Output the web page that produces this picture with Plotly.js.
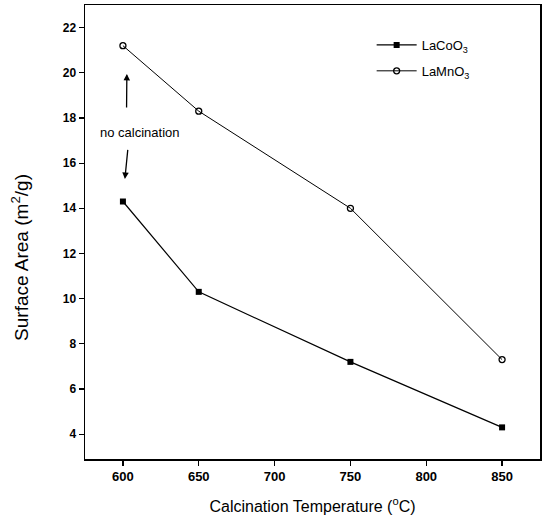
<!DOCTYPE html>
<html>
<head>
<meta charset="utf-8">
<script src="https://cdn.plot.ly/plotly-3.0.1.min.js"></script>
<style>
html,body{margin:0;padding:0;background:#fff;}
#chart{width:547px;height:519px;}
</style>
</head>
<body>
<div id="chart"></div>
<script>
var temperatures = [600, 650, 750, 850];
var lacoo3 = [14.3, 10.3, 7.2, 4.3];
var lamno3 = [21.2, 18.3, 14.0, 7.3];
var seriesNames = ['LaCoO<sub>3</sub>', 'LaMnO<sub>3</sub>'];
var xTicks = [600, 650, 700, 750, 800, 850];
var yTicks = [4, 6, 8, 10, 12, 14, 16, 18, 20, 22];
var xTitle = 'Calcination Temperature (<sup>o</sup>C)';
var yTitle = 'Surface Area (m<sup>2</sup>/g)';

var font = 'Liberation Sans, Arial, sans-serif';
var black = '#000000';

var traces = [
  {
    x: temperatures, y: lacoo3, name: seriesNames[0], type: 'scatter', mode: 'lines+markers',
    legendgroup: 'a',
    line: {color: black, width: 1.2},
    marker: {symbol: 'square', size: 6, color: black}
  },
  {
    x: temperatures, y: lamno3, name: seriesNames[1], type: 'scatter', mode: 'lines+markers',
    legendgroup: 'b',
    line: {color: black, width: 1},
    marker: {symbol: 'circle-open', size: 6, color: black, line: {width: 1.3}}
  }
];

var layout = {
  width: 547, height: 519,
  margin: {l: 85, r: 7, t: 5, b: 60},
  paper_bgcolor: '#fff', plot_bgcolor: '#fff',
  font: {family: font, color: black, size: 12},
  showlegend: true,
  legend: {
    x: 0.63, y: 0.945, xanchor: 'left', yanchor: 'top',
    bgcolor: 'rgba(0,0,0,0)', font: {size: 13, family: font, color: black},
    traceorder: 'grouped', tracegroupgap: 6, itemwidth: 40
  },
  xaxis: {
    range: [575, 875], tickvals: xTicks, ticks: 'outside', ticklen: 5, tickwidth: 1.2, tickcolor: black,
    showline: true, linecolor: black, linewidth: 1.5, mirror: true, showgrid: false, zeroline: false,
    tickfont: {size: 13, family: font, weight: 'bold', color: black},
    title: {text: xTitle, font: {size: 16, family: font, color: black}, standoff: 17}
  },
  yaxis: {
    range: [2.9, 23], tickvals: yTicks, ticks: 'outside', ticklen: 5, tickwidth: 1.2, tickcolor: black,
    showline: true, linecolor: black, linewidth: 1.5, mirror: true, showgrid: false, zeroline: false,
    tickfont: {size: 12, family: font, weight: 'bold', color: black}
  },
  annotations: [
    {x: -0.143, y: 0.445, xref: 'paper', yref: 'paper', text: yTitle, textangle: -90, showarrow: false,
     xanchor: 'center', yanchor: 'middle', font: {size: 19, family: font, color: black}},
    {x: 611, y: 17.35, xref: 'x', yref: 'y', text: 'no calcination', showarrow: false,
     xanchor: 'center', yanchor: 'middle', font: {size: 13, family: font, color: black}},
    {x: 602.6, y: 19.95, ax: 602.4, ay: 18.4, xref: 'x', yref: 'y', axref: 'x', ayref: 'y',
     showarrow: true, arrowhead: 2, arrowsize: 1, arrowwidth: 1.3, arrowcolor: black, text: ''},
    {x: 601.3, y: 15.3, ax: 603.3, ay: 16.65, xref: 'x', yref: 'y', axref: 'x', ayref: 'y',
     showarrow: true, arrowhead: 2, arrowsize: 1, arrowwidth: 1.3, arrowcolor: black, text: ''}
  ]
};

Plotly.newPlot('chart', traces, layout, {displayModeBar: false, staticPlot: true});
</script>
</body>
</html>
